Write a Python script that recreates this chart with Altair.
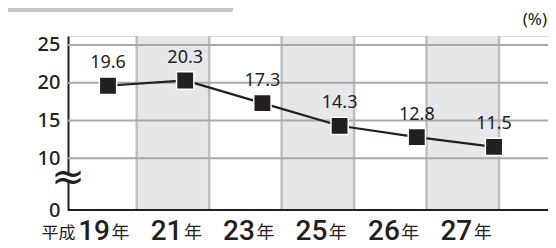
import altair as alt
import pandas as pd

# ---- data ----
years = ["19", "21", "23", "25", "26", "27"]
prefix = ["平成", "", "", "", "", ""]
values = [19.6, 20.3, 17.3, 14.3, 12.8, 11.5]
value_labels = ["19.6", "20.3", "17.3", "14.3", "12.8", "11.5"]
shaded = [False, True, False, True, False, True]
y_ticks = [10, 15, 20, 25]

# broken axis: the bottom of the plot is labelled "0"
Y_FLOOR = 3.15
Y_TOP = 26.19
BREAK_HI, BREAK_LO = 7.75, 6.85
BREAK_WAVE_1, BREAK_WAVE_2 = 7.8, 6.9

INK = "#231f20"

idx = list(range(len(years)))
df = pd.DataFrame({"i": idx, "year": years, "nen": ["年"] * len(years),
                   "prefix": prefix, "v": values, "lab": value_labels,
                   "shade": shaded})
df["base"] = Y_FLOOR
df_band = df[df.shade].copy()
df_band["lo"] = df_band.i - 0.5
df_band["hi"] = df_band.i + 0.5
df_band["top"] = Y_TOP
df_band["bot"] = Y_FLOOR
df_vl = pd.DataFrame({"b": [k + 0.5 for k in range(len(years))]})
df_grid = pd.DataFrame({"g": y_ticks})
df_axis = pd.DataFrame({"y0": [Y_FLOOR]})
df_break = pd.DataFrame({"hi": [BREAK_HI], "lo": [BREAK_LO]})
df_waves = pd.DataFrame({"w": [BREAK_WAVE_1, BREAK_WAVE_2], "t": ["~", "~"]})
df_pct = pd.DataFrame({"t": ["(%)"]})

col_scale = alt.Scale(domain=[-0.4485, 6.176], nice=False, zero=False)
pt_scale = alt.Scale(domain=[-0.518, 5.699], nice=False, zero=False)
ysc = alt.Scale(domain=[Y_FLOOR, Y_TOP], nice=False, zero=False)
yax = alt.Axis(values=[Y_FLOOR] + y_ticks,
               labelExpr="datum.value < 5 ? '0' : datum.label",
               grid=False, ticks=False, domainColor=INK, domainWidth=2,
               labelFontSize=20, labelFont="Noto Sans", labelFontWeight=500,
               labelColor=INK, labelPadding=8, title=None)


def Y(field):
    return alt.Y(field, type="quantitative", scale=ysc, axis=yax)


def XC(field):
    return alt.X(field, type="quantitative", scale=col_scale, axis=None)


def XP(field):
    return alt.X(field, type="quantitative", scale=pt_scale, axis=None)


banner = alt.Chart(df_pct).mark_rect(color="#c6c6c6", cornerRadiusBottomRight=5).encode(
    x=alt.value(-60), x2=alt.value(165), y=alt.value(-28), y2=alt.value(-24))

bands = alt.Chart(df_band).mark_rect(color="#e6e7e8").encode(
    x=XC("lo"), x2="hi", y=Y("top"), y2="bot")

vlines = alt.Chart(df_vl).mark_rule(color="#bdbec0", strokeWidth=2.5).encode(x=XC("b"))

hgrid = alt.Chart(df_grid).mark_rule(color="#a7a9ac", strokeWidth=2).encode(y=Y("g"))

xaxis = alt.Chart(df_axis).mark_rule(color=INK, strokeWidth=2).encode(y=Y("y0"))

line = alt.Chart(df).mark_line(color=INK, strokeWidth=2.2).encode(x=XP("i"), y=Y("v"))

points = alt.Chart(df).mark_point(shape="square", filled=True, fill=INK, opacity=1,
                                  stroke="white", strokeWidth=1.5, size=300).encode(
    x=XP("i"), y=Y("v"))

vlabels = alt.Chart(df).mark_text(font="Noto Sans", fontSize=18, color=INK,
                                  baseline="alphabetic", dy=-17.5).encode(
    x=XP("i"), y=Y("v"), text="lab")

xnum = alt.Chart(df).mark_text(font="Roboto", fontSize=28, fontWeight=500,
                               color=INK, align="right", baseline="alphabetic",
                               dx=9.5, dy=30).encode(
    x=XC("i"), y=Y("base"), text="year")

xnen = alt.Chart(df).mark_text(font="Noto Sans CJK JP", fontSize=18, color=INK,
                               align="left", baseline="alphabetic", dx=11, dy=29).encode(
    x=XC("i"), y=Y("base"), text="nen")

xpre = alt.Chart(df).mark_text(font="Noto Sans CJK JP", fontSize=17, color=INK,
                               align="right", baseline="alphabetic", dx=-25, dy=29).encode(
    x=XC("i"), y=Y("base"), text="prefix")

brk_white = alt.Chart(df_break).mark_rule(color="white", strokeWidth=4).encode(
    x=alt.value(0), y=Y("hi"), y2="lo")

brk = alt.Chart(df_waves).mark_text(font="DejaVu Sans", fontSize=40, color=INK,
                                    baseline="middle").encode(
    x=alt.value(0), y=Y("w"), text="t")

pct = alt.Chart(df_pct).mark_text(font="Noto Sans", fontSize=17, color=INK,
                                  align="right", baseline="middle").encode(
    x=alt.value(479), y=alt.value(-16), text="t")

chart = alt.layer(
    banner, bands, vlines, hgrid, xaxis, line, points, vlabels,
    xnum, xnen, xpre, brk_white, brk, pct
).resolve_scale(x="independent").properties(
    width=480, height=174,
    autosize=alt.AutoSizeParams(type="none"),
    padding={"left": 60, "top": 28, "right": 0, "bottom": 30},
).configure_view(stroke=None).configure(background="white")

chart.save("out.html", embed_options={"renderer": "svg", "actions": False})
